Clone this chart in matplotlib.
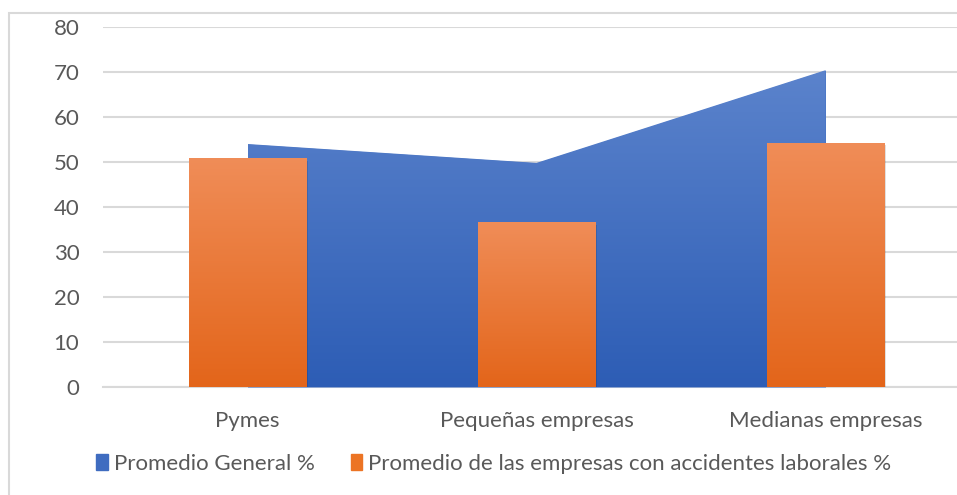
import numpy as np
import matplotlib.pyplot as plt
from matplotlib.patches import Rectangle
from matplotlib.colors import LinearSegmentedColormap

categorias = ["Pymes", "Pequeñas empresas", "Medianas empresas"]
promedio_general = [54.0, 49.8, 70.4]
promedio_accidentes = [50.9, 36.7, 54.3]
yticks = [0, 10, 20, 30, 40, 50, 60, 70, 80]

plt.rcParams['font.family'] = ['Lato', 'DejaVu Sans']
gris_texto = '#595959'
gris_linea = '#d9d9d9'

fig = plt.figure(figsize=(9.57, 4.95), dpi=100)
ax = fig.add_axes([103 / 957, (495 - 387) / 495, (970 - 103) / 957, 360 / 495])

x = np.arange(len(categorias))

# area (Promedio General) con degradado
azul = LinearSegmentedColormap.from_list('azul', ['#2d5db5', '#5b83cc'])
area = ax.fill_between(x, 0, promedio_general, color='#4472c4', lw=0, zorder=2)
grad = np.linspace(0, 1, 256).reshape(-1, 1)
img = ax.imshow(grad, cmap=azul, origin='lower', aspect='auto',
                extent=[x[0], x[-1], 0, max(promedio_general)], zorder=2)
img.set_clip_path(area.get_paths()[0], transform=ax.transData)

# barras (accidentes laborales) con degradado
naranja = LinearSegmentedColormap.from_list('naranja', ['#e3651a', '#f08d58'])
ancho = 0.405
barras = ax.bar(x, promedio_accidentes, width=ancho, color='#ed7d31', lw=0, zorder=4)
for b, v in zip(barras, promedio_accidentes):
    # sombra suave
    ax.add_patch(Rectangle((b.get_x() + 0.008, -0.6), ancho, v, color='black',
                           alpha=0.12, lw=0, zorder=3.5))
    im = ax.imshow(grad, cmap=naranja, origin='lower', aspect='auto',
                   extent=[b.get_x(), b.get_x() + ancho, 0, v], zorder=4.5)
    im.set_clip_path(b)

ax.set_xlim(-0.5, 2.5)
ax.set_ylim(0, 80)
ax.set_yticks(yticks)
ax.set_xticks(x)
ax.set_xticklabels(categorias)
ax.grid(axis='y', color=gris_linea, lw=1.5, zorder=0)
ax.set_axisbelow(True)
for s in ['top', 'right', 'left']:
    ax.spines[s].set_visible(False)
ax.spines['bottom'].set_color(gris_linea)
ax.spines['bottom'].set_linewidth(1.5)
ax.spines['bottom'].set_zorder(1)
ax.tick_params(axis='both', length=0, labelsize=16, colors=gris_texto)
ax.tick_params(axis='y', pad=17)
ax.tick_params(axis='x', pad=17)

# borde del grafico
fig.patches.append(Rectangle((9 / 957, -0.1), 1.2, (495 - 13) / 495 + 0.1,
                             transform=fig.transFigure, fill=False,
                             edgecolor=gris_linea, lw=1.5))

h1 = Rectangle((0, 0), 1, 1, color='#3f6cc0')
h2 = Rectangle((0, 0), 1, 1, color='#ec7424')
fig.legend([h1, h2], ['Promedio General %', 'Promedio de las empresas con accidentes laborales %'],
           loc='center', bbox_to_anchor=(494 / 957, 1 - 464 / 495), ncol=2, frameon=False,
           fontsize=16, labelcolor=gris_texto, handlelength=0.5, handleheight=0.75,
           handletextpad=0.3, columnspacing=1.6)

fig.savefig('out.png', dpi=100)
